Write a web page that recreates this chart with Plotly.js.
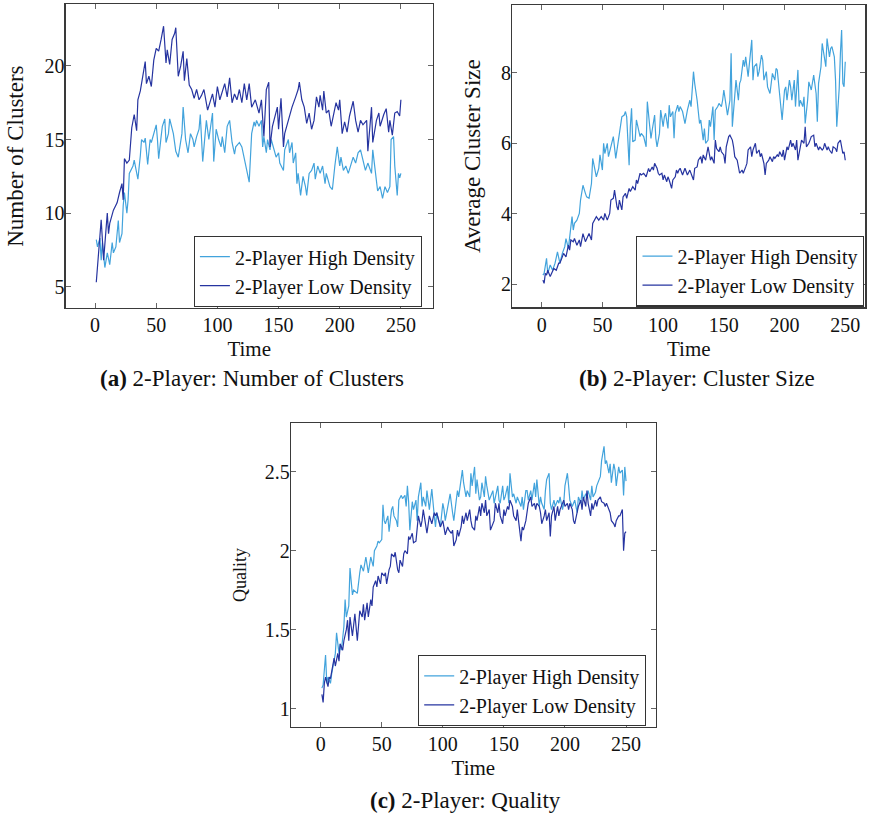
<!DOCTYPE html>
<html><head><meta charset="utf-8">
<script src="https://cdn.plot.ly/plotly-3.0.1.min.js"></script>
<style>html,body{margin:0;padding:0;background:#fff}#chart{width:873px;height:815px}</style>
</head><body><div id="chart"></div>
<script>
// ---- (a) Number of Clusters ----
const tClustersHigh = [1,2,4,5,6,8,10,12,14,15,17,19,20,22,23,24,26,27,28,31,32,35,37,38,40,41,43,45,46,48,50,51,52,54,55,57,58,60,61,64,66,68,70,71,72,74,76,78,80,81,83,85,86,88,90,91,93,95,96,97,99,101,103,104,106,108,110,112,114,115,118,120,122,124,126,127,128,130,131,132,134,136,137,138,140,141,143,144,146,148,150,151,154,155,158,159,161,162,164,165,166,168,170,172,173,175,177,179,180,182,184,186,188,189,192,194,196,198,200,201,203,205,207,209,211,213,215,217,219,221,223,226,227,229,231,233,235,237,239,241,242,244,245,247,248,249,250];
const clustersHigh = [8.2,7.7,8.3,6.8,8.0,6.3,7.3,6.5,8.0,7.3,7.7,9.5,8.0,8.6,10.5,11.4,10.0,10.9,12.7,13.2,13.6,12.3,13.9,15.0,14.8,15.1,13.3,15.0,14.8,15.4,16.0,15.0,13.7,15.2,15.9,16.4,14.8,15.4,16.4,15.4,14.2,13.8,14.8,15.4,17.2,15.0,14.1,15.4,15.0,14.5,15.2,15.7,16.7,13.5,15.4,16.3,15.0,16.1,16.8,13.5,15.7,15.0,14.5,15.2,14.1,15.9,16.3,14.8,14.0,14.5,14.8,14.5,13.8,12.9,12.1,14.3,15.4,16.2,15.9,16.3,15.9,16.3,14.5,15.2,14.1,15.0,14.3,15.0,14.3,13.8,14.1,13.4,12.9,14.3,15.0,14.1,14.8,13.4,14.1,12.0,12.7,11.2,12.5,11.8,11.2,12.7,12.9,13.4,12.3,13.2,12.7,13.2,12.0,12.7,11.8,11.6,13.2,14.5,13.2,13.8,12.9,13.2,12.7,13.2,13.8,13.4,14.1,14.3,13.6,12.9,13.4,12.7,14.3,12.7,11.5,11.8,11.0,11.8,11.4,11.8,15.0,15.2,13.2,11.2,12.7,12.4,12.7];
const tClustersLow = [1,5,7,10,11,12,15,18,20,22,23,24,26,28,30,32,34,35,37,39,41,42,44,46,48,50,52,54,56,58,59,61,63,65,66,68,70,72,73,75,77,79,81,83,85,87,89,92,94,96,98,100,102,104,106,108,110,112,114,116,118,120,122,124,126,128,131,134,136,138,140,142,143,145,147,149,150,152,154,155,158,161,164,166,167,169,171,173,175,177,179,181,183,184,186,187,189,191,193,195,197,199,200,202,204,206,208,211,213,215,217,219,222,223,226,227,230,232,233,236,238,240,241,243,245,247,249,250];
const clustersLow = [5.3,9.55,6.8,10.0,8.6,9.3,10.2,10.7,11.4,12.0,10.9,13.7,13.4,13.6,15.8,16.7,15.6,17.7,18.3,19.4,20.3,18.8,19.3,18.6,20.4,21.2,21.0,21.8,22.7,20.2,21.1,20.1,21.8,22.2,22.6,19.3,20.0,21.0,19.0,20.5,18.7,18.4,17.8,18.4,17.7,18.0,18.4,17.0,17.6,18.1,17.2,18.6,17.7,18.3,18.8,17.9,19.2,17.5,18.1,17.7,18.4,17.5,18.8,17.7,18.8,17.2,17.7,16.8,17.7,15.2,18.4,18.9,14.5,15.9,16.6,17.2,15.7,17.8,14.5,15.4,16.3,17.2,17.9,18.4,18.9,17.7,17.2,16.1,16.8,15.7,16.3,17.9,17.2,18.0,17.0,18.3,16.8,17.0,15.9,16.6,17.5,17.0,17.7,15.4,16.2,15.5,16.6,17.6,16.3,15.5,16.3,16.0,16.3,14.2,17.2,14.8,16.3,16.8,15.9,16.7,17.1,15.5,16.3,15.3,16.8,16.9,16.6,17.7];

// ---- (b) Average Cluster Size ----
const tSizeHigh = [1,2,4,5,7,9,11,13,15,17,19,20,22,23,25,26,27,29,31,32,34,36,37,39,41,42,44,45,47,48,50,51,52,54,55,57,59,61,63,64,66,68,69,70,72,73,74,75,77,78,80,81,82,84,86,87,89,90,91,93,94,95,97,98,100,101,102,104,105,106,108,109,110,112,113,114,116,118,120,122,123,125,126,128,130,131,133,134,135,137,138,139,141,142,143,145,146,148,149,150,152,153,155,156,157,159,160,162,163,164,166,167,168,170,171,173,174,175,177,178,179,181,182,183,185,186,188,189,190,192,193,194,196,197,198,200,201,202,204,205,206,208,209,211,212,213,215,216,217,219,220,222,223,224,226,227,228,230,231,233,234,235,237,238,239,241,242,243,245,246,247,248,249,250];
const sizeHigh = [2.26,2.31,2.74,2.31,2.55,2.4,2.6,2.92,2.6,2.88,3.07,3.3,3.02,3.35,3.92,3.54,3.73,3.82,4.01,4.39,4.81,4.58,4.48,4.44,4.86,5.57,5.24,5.05,5.29,5.67,5.24,6.0,5.71,6.0,5.62,5.9,6.19,5.57,6.0,6.33,6.75,6.8,6.9,6.75,5.38,6.47,6.99,6.04,6.09,6.66,6.37,6.19,6.28,6.19,5.9,7.18,6.47,6.14,6.37,6.8,6.14,5.9,6.28,6.94,6.47,6.75,6.85,6.42,7.08,6.75,6.9,6.14,6.85,7.08,6.9,7.04,6.9,6.56,6.94,7.22,7.04,8.03,7.7,7.22,6.56,6.66,6.09,6.42,6.0,6.09,6.66,6.47,7.04,6.09,6.94,7.04,7.13,7.04,7.22,7.51,7.04,6.8,7.22,8.55,6.47,7.22,7.79,7.22,7.7,7.79,8.36,8.17,8.45,7.89,8.26,8.93,7.79,8.17,8.26,7.89,8.03,8.5,8.36,7.79,8.03,7.6,7.41,7.7,7.98,7.79,8.12,8.08,7.41,7.13,6.66,7.51,7.6,7.22,7.79,7.6,7.22,7.79,7.04,8.08,7.04,7.22,7.04,7.32,6.56,7.22,7.74,7.51,7.79,7.93,7.41,6.61,7.7,8.17,8.83,8.45,8.17,8.97,8.45,8.69,8.74,8.45,7.79,6.47,7.55,8.55,9.21,7.7,7.6,8.31];
const tSizeLow = [1,2,3,4,5,7,10,12,14,15,17,18,20,22,23,24,26,27,29,31,32,34,36,37,39,41,42,45,47,49,51,52,54,56,57,59,60,62,63,64,66,67,69,70,72,73,75,77,78,79,81,82,84,86,88,89,91,92,93,95,96,97,99,100,101,103,104,105,107,108,110,111,112,113,114,116,118,120,122,124,125,126,128,129,131,132,133,135,136,137,139,140,142,143,144,146,147,148,150,151,152,154,155,157,158,159,161,162,163,165,166,168,169,170,172,173,174,176,177,179,180,181,183,184,185,187,188,190,191,192,194,195,196,198,199,200,202,203,205,206,207,209,210,211,213,214,216,217,218,220,221,222,224,225,226,228,229,231,232,233,235,236,237,239,240,242,243,244,246,247,248,249,250];
const sizeLow = [2.12,2.03,2.31,2.26,2.4,2.22,2.45,2.4,2.6,2.6,2.78,2.88,2.78,3.11,2.97,3.26,3.21,3.3,3.11,3.26,3.07,3.44,3.21,3.3,3.44,3.26,3.73,3.92,3.82,3.92,3.82,4.01,3.82,4.01,4.39,4.44,4.67,4.2,4.11,4.39,4.11,4.48,4.58,4.44,4.72,4.63,4.77,4.67,4.96,4.86,5.15,5.1,5.15,5.05,5.29,5.19,5.33,5.24,5.43,5.29,5.15,5.1,5.15,4.96,5.1,4.91,5.05,4.96,4.72,4.96,5.05,5.24,5.15,5.24,5.29,5.1,5.29,5.1,5.24,5.05,4.96,5.29,5.33,5.52,5.62,5.43,5.67,5.52,5.71,5.9,5.52,5.62,5.43,6.09,5.85,5.76,5.9,5.76,5.67,5.43,5.9,6.19,6.23,6.09,5.9,5.62,5.52,5.33,5.15,5.24,5.15,5.33,5.43,5.81,5.9,5.62,5.81,6.0,5.71,5.81,5.62,5.71,5.43,5.1,5.43,5.52,5.62,5.48,5.62,5.57,5.67,5.62,5.76,5.62,5.81,5.52,5.9,5.81,6.09,5.9,6.0,5.81,6.09,5.52,5.9,6.09,6.0,6.47,5.9,6.0,6.09,6.19,6.23,5.9,6.0,5.81,5.9,5.81,5.85,6.0,5.81,5.9,5.81,5.71,5.9,5.85,5.76,6.0,6.09,5.9,5.71,5.76,5.52];

// ---- (c) Quality ----
const tQualityHigh = [1,2,4,5,6,8,9,10,12,13,15,16,17,19,20,21,23,24,26,27,29,30,32,33,35,36,37,39,40,41,43,44,46,47,48,50,51,52,53,55,56,58,59,60,62,63,64,66,67,69,70,71,72,73,75,76,78,79,80,82,83,84,86,87,89,90,91,93,94,95,97,98,100,101,102,104,105,106,108,109,111,112,113,115,116,117,119,120,122,123,124,126,127,128,130,131,132,134,135,136,138,139,141,142,143,145,146,147,149,150,151,153,154,155,157,158,160,161,162,164,165,166,168,169,170,172,173,175,176,177,179,180,181,183,184,185,187,188,189,191,192,194,195,196,198,199,200,202,203,204,206,207,208,210,211,213,214,215,217,218,219,221,222,223,225,226,227,229,230,232,233,234,236,237,238,240,241,242,244,245,247,248,249,250];
const qualityHigh = [1.13,1.15,1.34,1.16,1.2,1.16,1.22,1.27,1.35,1.48,1.35,1.41,1.37,1.52,1.69,1.58,1.65,1.89,1.72,1.75,1.74,1.73,1.86,1.91,1.87,1.92,1.96,1.86,1.92,1.96,1.9,2.0,2.03,2.06,2.05,2.07,2.29,2.19,2.17,2.22,2.12,2.26,2.28,2.22,2.19,2.15,2.32,2.35,2.33,2.35,2.28,2.41,2.31,2.13,2.31,2.26,2.32,2.19,2.34,2.43,2.28,2.34,2.28,2.38,2.26,2.34,2.39,2.22,2.15,2.24,2.17,2.15,2.3,2.26,2.19,2.28,2.32,2.36,2.24,2.19,2.32,2.38,2.34,2.45,2.51,2.43,2.34,2.38,2.34,2.49,2.41,2.53,2.36,2.45,2.32,2.34,2.43,2.34,2.47,2.41,2.32,2.34,2.38,2.3,2.34,2.41,2.32,2.3,2.41,2.32,2.34,2.41,2.3,2.49,2.34,2.36,2.3,2.34,2.32,2.28,2.34,2.26,2.38,2.38,2.32,2.38,2.32,2.43,2.34,2.45,2.28,2.34,2.3,2.26,2.38,2.45,2.49,2.3,2.26,2.32,2.28,2.32,2.3,2.34,2.26,2.3,2.41,2.49,2.41,2.32,2.28,2.3,2.32,2.24,2.34,2.3,2.38,2.32,2.36,2.34,2.38,2.32,2.41,2.34,2.37,2.41,2.43,2.47,2.57,2.66,2.55,2.57,2.49,2.55,2.43,2.55,2.51,2.41,2.53,2.49,2.51,2.35,2.53,2.44];
const tQualityLow = [1,2,3,4,6,7,8,10,11,12,14,15,16,18,19,21,22,23,24,26,27,28,30,31,32,34,35,36,38,39,41,42,43,45,46,47,49,50,52,53,54,56,57,58,60,61,63,64,65,67,68,69,71,72,73,75,76,78,79,80,82,83,84,86,87,89,90,91,93,94,95,97,98,100,101,102,104,105,107,108,109,111,112,113,115,116,117,119,120,122,123,124,126,127,128,130,131,132,134,135,136,138,139,141,142,143,145,146,147,149,150,151,153,154,155,157,158,160,161,162,164,165,166,168,169,170,172,173,175,176,177,179,180,181,183,184,185,187,188,189,191,192,194,195,196,198,199,200,202,203,204,206,207,208,210,211,213,214,215,217,218,219,221,222,223,225,226,227,229,230,232,233,234,236,237,238,240,241,242,244,245,247,248,249,250];
const qualityLow = [1.09,1.04,1.16,1.2,1.14,1.2,1.19,1.27,1.32,1.27,1.35,1.3,1.41,1.37,1.43,1.5,1.56,1.43,1.58,1.46,1.52,1.6,1.43,1.56,1.62,1.58,1.66,1.56,1.67,1.58,1.69,1.65,1.77,1.81,1.77,1.84,1.79,1.86,1.84,1.86,1.79,1.88,1.9,1.98,1.96,1.99,1.88,1.86,1.94,1.9,1.98,2.0,1.98,2.09,2.07,2.11,2.05,2.06,2.13,2.22,2.15,2.19,2.26,2.15,2.11,2.22,2.19,2.17,2.24,2.22,2.24,2.17,2.15,2.19,2.15,2.1,2.15,2.13,2.11,2.13,2.03,2.07,2.13,2.09,2.15,2.22,2.17,2.24,2.19,2.26,2.19,2.15,2.13,2.22,2.19,2.28,2.22,2.3,2.24,2.32,2.22,2.26,2.13,2.17,2.19,2.3,2.24,2.3,2.22,2.17,2.26,2.22,2.28,2.26,2.32,2.28,2.22,2.19,2.26,2.19,2.06,2.15,2.13,2.19,2.26,2.3,2.34,2.28,2.3,2.26,2.3,2.28,2.24,2.17,2.22,2.26,2.19,2.24,2.09,2.22,2.28,2.19,2.28,2.22,2.26,2.3,2.32,2.28,2.3,2.26,2.3,2.26,2.19,2.17,2.24,2.28,2.32,2.26,2.34,2.28,2.38,2.3,2.22,2.3,2.26,2.32,2.28,2.32,2.34,2.31,2.3,2.28,2.3,2.26,2.24,2.19,2.17,2.15,2.19,2.22,2.22,2.26,2.0,2.11,2.12];

const seriesNames = ['2-Player High Density', '2-Player Low Density'];
const timeTicks = [0, 50, 100, 150, 200, 250];
const clusterTicks = [5, 10, 15, 20];
const sizeTicks = [2, 4, 6, 8];
const qualityTicks = [1, 1.5, 2, 2.5];

const FONT = 'Liberation Serif, Times New Roman, serif';
const LIGHT = 'rgb(66,163,220)';
const DARK = 'rgb(38,52,160)';

function line(x, y, name, color, xa, ya, lg) {
  return {x, y, name, type: 'scatter', mode: 'lines', xaxis: xa, yaxis: ya, legend: lg,
          line: {color, width: 1.2}, hoverinfo: 'skip'};
}

const data = [
  line(tClustersHigh, clustersHigh, seriesNames[0], LIGHT, 'x', 'y', 'legend'),
  line(tClustersLow, clustersLow, seriesNames[1], DARK, 'x', 'y', 'legend'),
  line(tSizeHigh, sizeHigh, seriesNames[0], LIGHT, 'x2', 'y2', 'legend2'),
  line(tSizeLow, sizeLow, seriesNames[1], DARK, 'x2', 'y2', 'legend2'),
  line(tQualityHigh, qualityHigh, seriesNames[0], LIGHT, 'x3', 'y3', 'legend3'),
  line(tQualityLow, qualityLow, seriesNames[1], DARK, 'x3', 'y3', 'legend3')
];

const W = 873, H = 815;
function dx(a, b) { return [a / W, b / W]; }
function dy(top, bottom) { return [1 - bottom / H, 1 - top / H]; }

function xaxis(domain, range, anchor) {
  return {domain, range, anchor, tickvals: timeTicks, ticks: 'inside', ticklen: 5, tickwidth: 1,
    tickcolor: '#666', mirror: 'allticks', showline: true, linecolor: '#3a3a3a', linewidth: 1.3,
    showgrid: false, zeroline: false, ticklabelstandoff: -1,
    tickfont: {family: FONT, size: 20, color: '#111'},
    title: {text: 'Time', font: {family: FONT, size: 21, color: '#111'}, standoff: 6}};
}
function yaxis(domain, range, anchor, ticks, title, tsize, standoff) {
  return {domain, range, anchor, tickvals: ticks, ticks: 'inside', ticklen: 5, tickwidth: 1,
    tickcolor: '#666', mirror: 'allticks', showline: true, linecolor: '#3a3a3a', linewidth: 1.3,
    showgrid: false, zeroline: false, ticklabelstandoff: -4,
    tickfont: {family: FONT, size: 20, color: '#111'},
    title: {text: title, font: {family: FONT, size: tsize, color: '#111'}, standoff}};
}
function legend(xRight, yCenter) {
  return {x: xRight / W, y: 1 - yCenter / H, xanchor: 'right', yanchor: 'middle',
    bgcolor: '#fff', bordercolor: '#333', borderwidth: 1.2,
    font: {family: FONT, size: 20, color: '#111'}, tracegroupgap: 0};
}

const layout = {
  width: W, height: H, margin: {l: 0, r: 0, t: 0, b: 0},
  paper_bgcolor: '#fff', plot_bgcolor: '#fff', showlegend: true,
  xaxis: xaxis(dx(65.7, 432.7), [-24, 276], 'y'),
  yaxis: yaxis(dy(4.3, 308), [3.55, 24.19], 'x', clusterTicks, 'Number of Clusters', 23, 14),
  xaxis2: xaxis(dx(512.3, 865.3), [-24.2, 266.5], 'y2'),
  yaxis2: yaxis(dy(5, 307.3), [1.35, 9.92], 'x2', sizeTicks, 'Average Cluster Size', 23, 14),
  xaxis3: xaxis(dx(291, 655.7), [-24.3, 274.3], 'y3'),
  yaxis3: yaxis(dy(423.3, 726.7), [0.886, 2.806], 'x3', qualityTicks, 'Quality', 18, 13),
  legend: legend(421.7, 271.5),
  legend2: legend(864.3, 271),
  legend3: legend(646, 690.7),
  annotations: [
    {text: '<b>(a)</b> 2-Player: Number of Clusters', x: 251.7 / W, y: 1 - 378 / H},
    {text: '<b>(b)</b> 2-Player: Cluster Size', x: 696.7 / W, y: 1 - 378 / H},
    {text: '<b>(c)</b> 2-Player: Quality', x: 465 / W, y: 1 - 800 / H}
  ].map(a => Object.assign({xref: 'paper', yref: 'paper', xanchor: 'center', yanchor: 'middle',
    showarrow: false, font: {family: FONT, size: 23, color: '#111'}}, a))
};

Plotly.newPlot('chart', data, layout, {displayModeBar: false, staticPlot: true});
</script>
</body></html>
